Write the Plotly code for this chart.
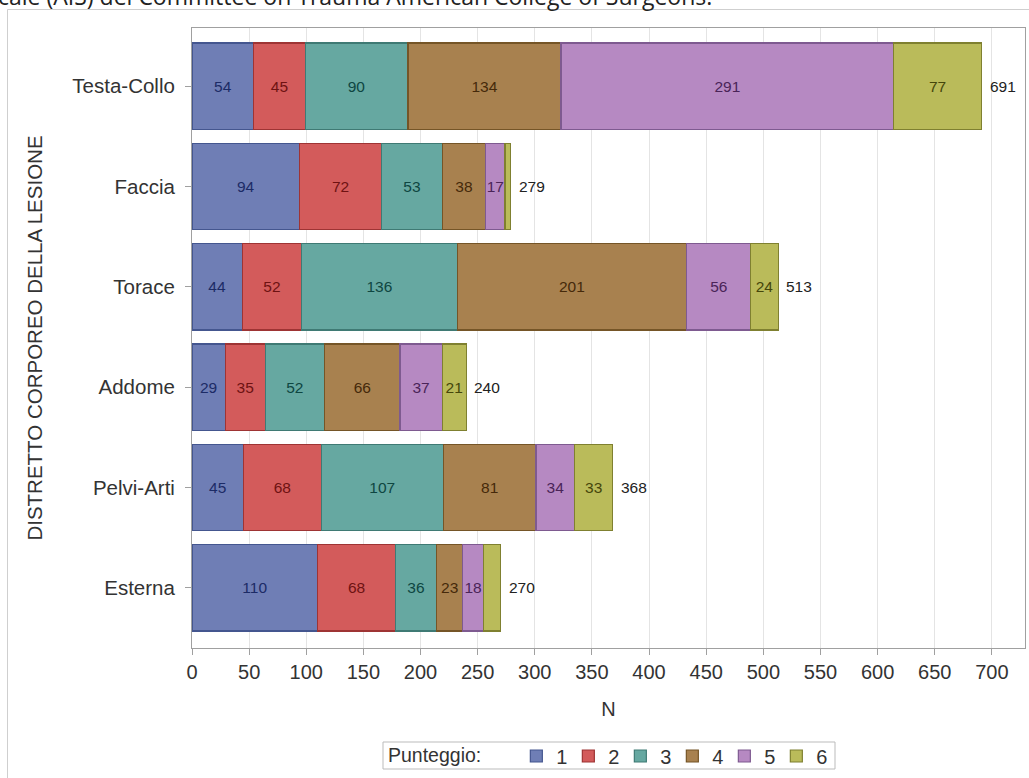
import plotly.graph_objects as go

categories = ["Testa-Collo", "Faccia", "Torace", "Addome", "Pelvi-Arti", "Esterna"]
scores = ["1", "2", "3", "4", "5", "6"]
values = {
    "1": [54, 94, 44, 29, 45, 110],
    "2": [45, 72, 52, 35, 68, 68],
    "3": [90, 53, 136, 52, 107, 36],
    "4": [134, 38, 201, 66, 81, 23],
    "5": [291, 17, 56, 37, 34, 18],
    "6": [77, 5, 24, 21, 33, 15],
}
x_ticks = list(range(0, 701, 50))
header_text = "cale (AIS) del Committee on Trauma American College of Surgeons."

fills = ["#6F7EB5", "#D35B5B", "#66A8A1", "#A8814F", "#B689C2", "#BABB5A"]
lines = ["#44568F", "#9E3434", "#3F7A74", "#755527", "#7E5A90", "#7F8030"]
txtc = ["#1C2B66", "#6E1212", "#0E4641", "#45290A", "#4A2458", "#45460B"]

FONT = "Liberation Sans, Arial"

fig = go.Figure()
for i, s in enumerate(scores):
    vals = values[s]
    labels = [str(v) if v >= 17 else "" for v in vals]
    fig.add_trace(go.Bar(
        y=categories, x=vals, name=s, orientation="h",
        marker=dict(color=fills[i], line=dict(color=lines[i], width=1.2)),
        text=labels, textposition="inside", insidetextanchor="middle",
        textangle=0, constraintext="none",
        textfont=dict(family=FONT, size=15.5, color=txtc[i]),
        width=0.86, hoverinfo="x+y+name",
    ))

totals = [sum(values[s][j] for s in scores) for j in range(len(categories))]
for cat, tot in zip(categories, totals):
    fig.add_annotation(x=tot, y=cat, text=str(tot), showarrow=False,
                       xanchor="left", xshift=6, yanchor="middle",
                       font=dict(family=FONT, size=15.5, color="#222"))

W, H = 1029, 778
L, R, T, B = 192, 4, 28, 130
pw = W - L - R
ph = H - T - B

def px_x(px):
    return (px - L) / pw

def px_y(py):
    return 1 - (py - T) / ph

fig.update_layout(
    width=W, height=H, barmode="stack",
    margin=dict(l=L, r=R, t=T, b=B, autoexpand=False),
    paper_bgcolor="white", plot_bgcolor="white",
    font=dict(family=FONT, color="#333"),
    xaxis=dict(
        range=[0, 729], tickvals=x_ticks, ticktext=[str(v) for v in x_ticks],
        showgrid=True, gridcolor="#E4E4E4", gridwidth=1,
        zeroline=False, showline=True, linecolor="#A0A0A0", linewidth=1, mirror=True,
        ticks="outside", ticklen=6, tickcolor="#A0A0A0",
        tickfont=dict(size=20, color="#333"), ticklabelstandoff=0,
        title=dict(text="N", font=dict(size=20, color="#333"), standoff=19),
    ),
    yaxis=dict(
        type="category", categoryorder="array", categoryarray=categories,
        range=[5.6, -0.58], showgrid=False,
        zeroline=False, showline=True, linecolor="#A0A0A0", linewidth=1, mirror=True,
        ticks="outside", ticklen=6, tickcolor="#A0A0A0",
        tickfont=dict(size=20.5, color="#333"), ticklabelstandoff=6,
        title=dict(text="DISTRETTO CORPOREO DELLA LESIONE", font=dict(size=20.5, color="#333"), standoff=24),
    ),
    legend=dict(
        orientation="h", x=px_x(386), xanchor="left", y=px_y(756), yanchor="middle",
        title=dict(text="Punteggio:     ", font=dict(size=19.5, color="#333"), side="left"),
        font=dict(size=20, color="#333"),
        borderwidth=0, bgcolor="rgba(0,0,0,0)",
        entrywidth=7, entrywidthmode="pixels", itemwidth=30,
        traceorder="normal", tracegroupgap=0,
    ),
    showlegend=True,
)

# legend frame
fig.add_shape(type="rect", xref="paper", yref="paper",
              x0=px_x(383), x1=px_x(835), y0=px_y(769), y1=px_y(742),
              line=dict(color="#BBBBBB", width=1), fillcolor="white", layer="below")

# outer frame of the graph
fig.add_shape(type="rect", xref="paper", yref="paper",
              x0=px_x(7.5), x1=px_x(1034), y0=px_y(790), y1=px_y(9.5),
              line=dict(color="#CFCFCF", width=1), fillcolor="rgba(0,0,0,0)", layer="below")

# clipped header text from above the figure
fig.add_annotation(text=header_text, xref="paper", yref="paper",
                   x=px_x(-4), y=px_y(14), xanchor="left", yanchor="bottom",
                   showarrow=False, font=dict(family="Open Sans, Liberation Sans", size=23, color="#222"))

fig.write_html("out.html", config={"displayModeBar": False},
               post_script="document.body.style.margin='0px';")
